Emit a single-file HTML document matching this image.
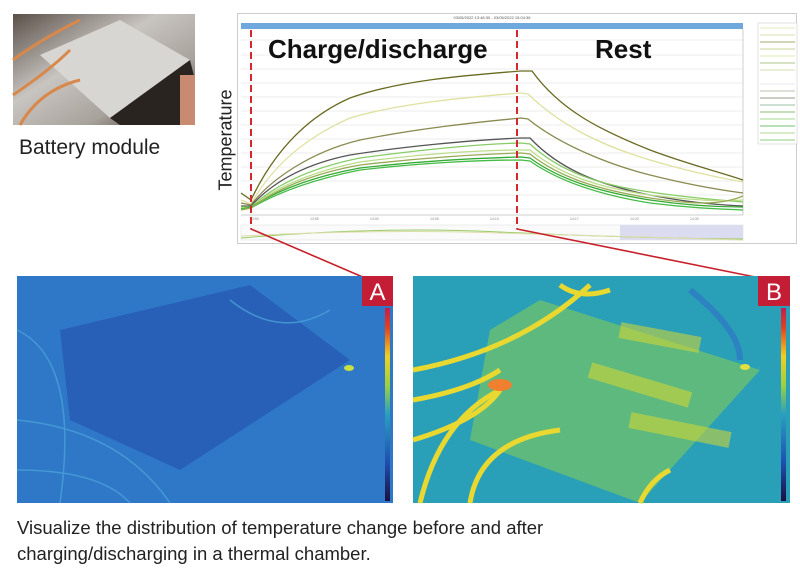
<!DOCTYPE html>
<html><head><meta charset="utf-8"><style>
body{margin:0;width:800px;height:582px;background:#fff;overflow:hidden;font-family:"Liberation Sans",sans-serif;position:relative}
.abs{position:absolute}
</style></head><body>
<svg class="abs" style="left:0;top:0" width="800" height="582" viewBox="0 0 800 582">
<defs>
<linearGradient id="cb" x1="0" y1="1" x2="0" y2="0">
<stop offset="0" stop-color="#1a1040"/><stop offset="0.2" stop-color="#1f4fb0"/><stop offset="0.45" stop-color="#2aa0c0"/><stop offset="0.6" stop-color="#9cd040"/><stop offset="0.75" stop-color="#f0d020"/><stop offset="0.9" stop-color="#e04020"/><stop offset="1" stop-color="#c02050"/></linearGradient>
<linearGradient id="photo" x1="0" y1="0" x2="1" y2="1">
<stop offset="0" stop-color="#5a5048"/><stop offset="0.4" stop-color="#c8c4c0"/><stop offset="0.7" stop-color="#a8a29c"/><stop offset="1" stop-color="#3a2a24"/></linearGradient>
</defs>
<!-- battery photo -->
<rect x="13" y="14" width="182" height="111" fill="url(#photo)"/>
<polygon points="40,55 120,20 190,60 110,118" fill="#d8d6d2"/>
<polygon points="110,118 190,60 195,80 195,125 120,125" fill="#2a2420"/>
<path d="M13,60 Q40,40 80,20 M13,95 Q50,70 70,50 M20,125 Q40,90 80,80" stroke="#d8884a" stroke-width="3" fill="none"/>
<rect x="180" y="75" width="15" height="50" fill="#c88a70"/>
<!-- chart panel -->
<rect x="237.5" y="13.5" width="559" height="230" fill="#fff" stroke="#ccc"/>
<rect x="241" y="23" width="502" height="6" fill="#6fa8dc"/>
<text x="492" y="19" font-size="4" text-anchor="middle" fill="#555">03/05/2022 13:48:30 - 03/05/2022 15:04:36</text>
<g stroke="#e8e8e8" stroke-width="0.7">
<line x1="241" y1="40" x2="743" y2="40"/><line x1="241" y1="55" x2="743" y2="55"/><line x1="241" y1="69" x2="743" y2="69"/><line x1="241" y1="83" x2="743" y2="83"/><line x1="241" y1="97" x2="743" y2="97"/><line x1="241" y1="111" x2="743" y2="111"/><line x1="241" y1="125" x2="743" y2="125"/><line x1="241" y1="139" x2="743" y2="139"/><line x1="241" y1="153" x2="743" y2="153"/><line x1="241" y1="167" x2="743" y2="167"/><line x1="241" y1="181" x2="743" y2="181"/><line x1="241" y1="195" x2="743" y2="195"/><line x1="241" y1="209" x2="743" y2="209"/>
</g>
<line x1="241" y1="215" x2="743" y2="215" stroke="#bbb" stroke-width="0.7"/>
<line x1="743" y1="29" x2="743" y2="215" stroke="#bbb" stroke-width="0.7"/>
<rect x="241" y="225" width="502" height="15" fill="#fafafa" stroke="#ddd" stroke-width="0.5"/>
<rect x="620" y="225" width="123" height="15" fill="#dcdcf0"/>
<path d="M241,238 Q380,226 500,232 T743,239" stroke="#9c6" fill="none"/>
<path d="M241,236 Q380,229 500,233 T743,240" stroke="#dda" fill="none"/>
<rect x="758" y="23" width="39" height="121" fill="#fff" stroke="#ccc" stroke-width="0.6"/>
<g stroke-width="0.8">
<line x1="760" y1="28" x2="795" y2="28" stroke="#dde0a8"/><line x1="760" y1="35" x2="795" y2="35" stroke="#cfd890"/><line x1="760" y1="42" x2="795" y2="42" stroke="#889040"/><line x1="760" y1="49" x2="795" y2="49" stroke="#b0c870"/><line x1="760" y1="56" x2="795" y2="56" stroke="#d8e0a0"/><line x1="760" y1="63" x2="795" y2="63" stroke="#90b060"/><line x1="760" y1="70" x2="795" y2="70" stroke="#c8d898"/><line x1="760" y1="84" x2="795" y2="84" stroke="#dde"/><line x1="760" y1="91" x2="795" y2="91" stroke="#aa9"/><line x1="760" y1="98" x2="795" y2="98" stroke="#776"/><line x1="760" y1="105" x2="795" y2="105" stroke="#7a8"/><line x1="760" y1="112" x2="795" y2="112" stroke="#6a4"/><line x1="760" y1="119" x2="795" y2="119" stroke="#8c6"/><line x1="760" y1="126" x2="795" y2="126" stroke="#4a4"/><line x1="760" y1="133" x2="795" y2="133" stroke="#9c7"/><line x1="760" y1="140" x2="795" y2="140" stroke="#6b5"/>
</g>
<!-- curves -->
<g fill="none" stroke-width="1.3">
<path d="M241,193 L251,200 C270,160 300,120 350,98 C400,80 470,75 521,71 L532,71 C560,110 600,130 650,150 C690,165 720,172 743,180" stroke="#6b6a20"/>
<path d="M241,200 L251,204 C270,170 300,140 350,118 C400,103 470,97 521,93 L528,94 C560,125 600,145 650,160 C690,172 720,178 743,182" stroke="#e0e0a0"/>
<path d="M241,203 L251,205 C270,180 310,152 360,140 C420,128 480,122 521,118 L528,119 C560,145 610,165 650,175 C690,185 720,190 743,193" stroke="#8a8a50"/>
<path d="M241,206 L251,206 C270,185 300,165 350,155 C400,147 470,140 521,138 L530,138 C560,170 600,185 650,195 C690,203 720,205 743,206" stroke="#555"/>
<path d="M241,207 L251,207 C275,185 310,168 360,158 C420,150 480,144 521,143 L530,144 C560,172 600,185 650,192 C690,198 720,200 743,202" stroke="#8c6"/>
<path d="M241,208 L251,207 C275,188 310,172 360,162 C420,154 480,150 521,150 L530,150 C560,175 600,188 650,195 C690,200 720,202 743,200" stroke="#bd8"/>
<path d="M241,209 L251,207 C275,192 310,177 360,168 C420,161 480,158 521,157 L530,158 C560,180 600,192 650,200 C690,206 720,207 743,207" stroke="#3a3"/>
<path d="M241,209 L251,208 C275,194 310,180 360,170 C420,163 480,160 521,160 L530,161 C560,182 600,195 650,203 C690,208 720,209 743,210" stroke="#4b4"/>
<path d="M241,210 L251,208 C275,190 310,174 360,165 C420,158 480,154 521,153 L530,154 C560,178 600,190 650,198 C690,204 720,206 743,196" stroke="#9a5"/>
</g>
<g font-size="3.5" fill="#888"><text x="250" y="220">13:50</text><text x="310" y="220">13:55</text><text x="370" y="220">14:00</text><text x="430" y="220">14:05</text><text x="490" y="220">14:10</text><text x="570" y="220">14:17</text><text x="630" y="220">14:23</text><text x="690" y="220">14:30</text></g>
<!-- dashed -->
<line x1="251" y1="30" x2="251" y2="228" stroke="#d8262e" stroke-width="2" stroke-dasharray="7,4"/>
<line x1="517" y1="30" x2="517" y2="228" stroke="#d8262e" stroke-width="2" stroke-dasharray="7,4"/>
<polyline points="251,228 251,229 365,278" stroke="#c8202a" stroke-width="1.6" fill="none"/>
<polyline points="517,228 517,229 760,278" stroke="#c8202a" stroke-width="1.6" fill="none"/>
<!-- thermal A -->
<rect x="17" y="276" width="376" height="227" fill="#2f78c8"/>
<polygon points="60,330 250,285 350,360 180,470 70,420" fill="#2860b8"/>
<g stroke="#4aa0d8" stroke-width="1.5" fill="none" opacity="0.8">
<path d="M17,330 Q80,360 60,503"/><path d="M17,420 Q120,430 170,503"/><path d="M230,300 Q280,340 330,310"/><path d="M17,470 Q100,470 130,503"/>
</g>
<ellipse cx="349" cy="368" rx="5" ry="3" fill="#c8e040"/>
<rect x="362" y="276" width="31" height="30" fill="#c41e36"/>
<text x="377.5" y="300" font-size="24" fill="#fff" text-anchor="middle">A</text>
<rect x="385" y="308" width="5" height="193" fill="url(#cb)"/>
<!-- thermal B -->
<rect x="413" y="276" width="377" height="227" fill="#2aa0b8"/>
<polygon points="540,300 760,370 640,503 470,440 490,330" fill="#6cbf70" opacity="0.8"/>
<g stroke="#d8d830" stroke-width="16" fill="none" opacity="0.55">
<path d="M620,330 L700,345"/><path d="M590,370 L690,400"/><path d="M630,420 L730,440"/></g>
<g stroke="#e8d830" stroke-width="5" fill="none">
<path d="M413,370 Q520,350 590,285"/><path d="M413,400 Q470,390 500,370"/><path d="M420,503 Q440,420 500,390"/><path d="M470,503 Q480,440 560,430"/><path d="M413,440 Q480,420 500,390"/><path d="M640,503 Q650,480 670,470"/><path d="M560,285 Q580,300 610,290"/></g>
<ellipse cx="500" cy="385" rx="12" ry="6" fill="#f08030"/>
<path d="M690,290 Q740,330 740,360" stroke="#3070c8" stroke-width="6" fill="none" opacity="0.6"/>
<ellipse cx="745" cy="367" rx="5" ry="3" fill="#e0e040"/>
<rect x="758" y="276" width="32" height="30" fill="#c41e36"/>
<text x="774" y="300" font-size="24" fill="#fff" text-anchor="middle">B</text>
<rect x="781" y="308" width="5" height="193" fill="url(#cb)"/>
</svg>
<div class="abs" style="left:19px;top:136px;font-size:21px;color:#222">Battery module</div>
<div class="abs" style="left:213px;top:140px;font-size:18px;color:#222;transform:translate(-50%,-50%) rotate(-90deg);left:226px;white-space:nowrap">Temperature</div>
<div class="abs" style="left:268px;top:34px;font-size:26px;font-weight:bold;color:#111">Charge/discharge</div>
<div class="abs" style="left:595px;top:34px;font-size:26px;font-weight:bold;color:#111">Rest</div>
<div class="abs" style="left:17px;top:515px;font-size:18.5px;line-height:26px;color:#222">Visualize the distribution of temperature change before and after<br>charging/discharging in a thermal chamber.</div>
</body></html>
